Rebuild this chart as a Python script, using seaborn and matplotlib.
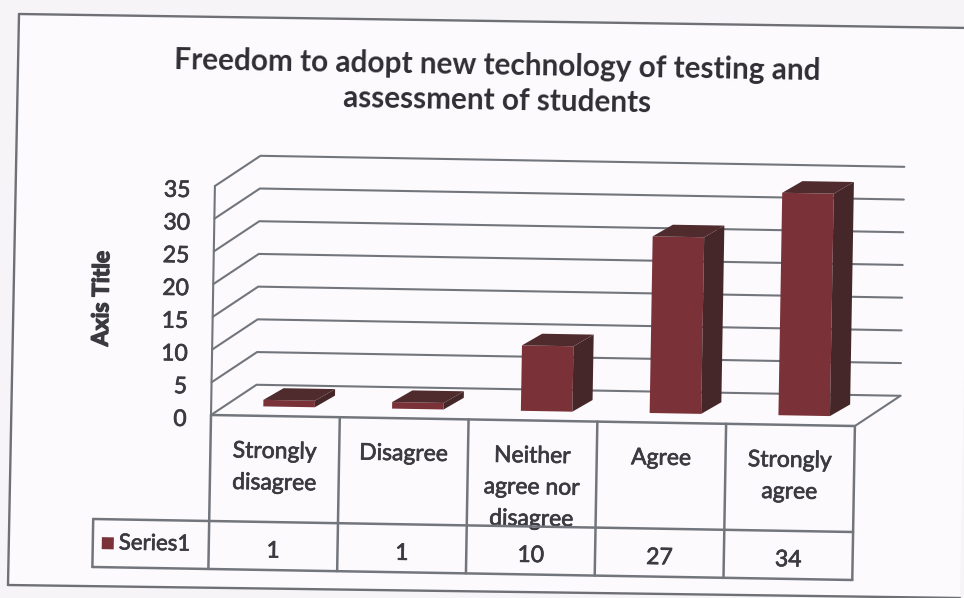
# 3D style column chart with data table, scanned look
import pandas as pd
import matplotlib
matplotlib.use("Agg")
import matplotlib.pyplot as plt
import matplotlib.patheffects as pe
from matplotlib.lines import Line2D
from matplotlib.patches import Polygon, Rectangle
from matplotlib.transforms import Affine2D
import seaborn as sns

# chart values
categories = ["Strongly\ndisagree", "Disagree", "Neither\nagree nor\ndisagree", "Agree", "Strongly\nagree"]
series1 = [1, 1, 10, 27, 34]
y_ticks = [0, 5, 10, 15, 20, 25, 30, 35]
title = "Freedom to adopt new technology of testing and\nassessment of students"
series_name = "Series1"
y_title = "Axis Title"

df = pd.DataFrame({"category": categories, "count": series1})

W, H = 964, 598
LINE = "#72767c"
TEXT = "#3b3a40"
FRONT = "#7a3138"
SIDE = "#462729"
TOP = "#4f2b2d"
TILT = -0.98  # the scan is a bit rotated
THICK = [pe.withStroke(linewidth=0.5, foreground=TEXT)]

sns.set_theme(style="white")
plt.rcParams["font.family"] = ["Lato", "DejaVu Sans"]

fig = plt.figure(figsize=(W / 100, H / 100), dpi=100, facecolor="#f6f4f7")

# plot front plane sits at x 211-855, y 415 up to 186
ux = 644 / 5
uy = 229 / 35
ax = fig.add_axes([211 / W, 1 - 415 / H, 644 / W, 229 / H])
ax.patch.set_alpha(0)

# paper inside the chart frame
frame = [(19, 14), (970, 28), (960, 598), (8, 585)]
fig.add_artist(Polygon([(x / W, 1 - y / H) for x, y in frame], closed=True, transform=fig.transFigure,
                       facecolor="#fcfafd", edgecolor="none", zorder=-5))
for (x0, y0), (x1, y1) in [(frame[3], frame[0]), (frame[0], frame[1]), (frame[3], frame[2])]:
    fig.add_artist(Line2D([x0 / W, x1 / W], [1 - y0 / H, 1 - y1 / H], transform=fig.transFigure,
                          color="#6e7075", lw=1.7, zorder=-4))

sns.barplot(data=df, x="category", y="count", color=FRONT, saturation=1, width=0.4, ax=ax, zorder=5, linewidth=0)
ax.set_xlim(-0.5, 4.5)
ax.set_ylim(0, 35)
ax.axis("off")

tilt = Affine2D().rotate_deg_around(211, H - 415, TILT)
scene = ax.transData + tilt


def seg(xs, ys, lw=1.5, z=2):
    ax.add_line(Line2D(xs, ys, transform=scene, color=LINE, lw=lw, clip_on=False, zorder=z))


def label(x, y, s, **kw):
    ax.text(x, y, s, transform=scene, rotation=TILT, rotation_mode="anchor", color=TEXT,
            clip_on=False, path_effects=THICK, **kw)


# walls and floor
wx, wy = 45 / ux, 31 / uy
for v in y_ticks:
    seg([-0.5, -0.5 + wx, 4.5 + wx], [v, v + wy, v + wy])
seg([-0.5, -0.5], [0, 35])
seg([4.5, 4.5 + wx], [0, wy])

# bars, pushed back onto the floor with side and top faces
bx, by = 13.5 / ux, 9.5 / uy
dx, dy = 20 / ux, 12 / uy
for bar in ax.patches[:len(series1)]:
    bar.set_transform(Affine2D().translate(bx, by) + scene)
    bar.set_clip_on(False)
    x0 = bar.get_x() + bx
    x1 = x0 + bar.get_width()
    y0 = by
    y1 = by + bar.get_height()
    ax.add_patch(Polygon([(x1, y0), (x1 + dx, y0 + dy), (x1 + dx, y1 + dy), (x1, y1)], closed=True,
                         facecolor=SIDE, edgecolor="none", transform=scene, clip_on=False, zorder=5))
    ax.add_patch(Polygon([(x0, y1), (x1, y1), (x1 + dx, y1 + dy), (x0 + dx, y1 + dy)], closed=True,
                         facecolor=TOP, edgecolor="none", transform=scene, clip_on=False, zorder=5))

# data table under the plot
row_top = -106 / uy
row_bot = -154 / uy
left = -0.5 - 116 / ux
seg([-0.5, 4.5], [0, 0], lw=1.8, z=6)
seg([left, 4.5], [row_top, row_top], lw=1.8, z=6)
seg([left, 4.5], [row_bot, row_bot], lw=1.8, z=6)
seg([left, left], [row_top, row_bot], lw=1.8, z=6)
for i in range(len(categories) + 1):
    seg([i - 0.5, i - 0.5], [0, row_bot], lw=1.8, z=6)

for i, c in enumerate(categories):
    label(i, -25 / uy, c, ha="center", va="top", fontsize=16.5, linespacing=1.62)
    label(i, (row_top + row_bot) / 2 - 5 / uy, str(series1[i]), ha="center", va="center", fontsize=16.5)

ax.add_patch(Rectangle((left + 9 / ux, (row_top + row_bot) / 2 - 6 / uy), 12 / ux, 12 / uy, facecolor=FRONT,
                       edgecolor="none", transform=scene, clip_on=False, zorder=6))
label(left + 26 / ux, (row_top + row_bot) / 2, series_name, ha="left", va="center", fontsize=16)

# y axis text
for v in y_ticks:
    label(-0.69, v - 5 / uy, str(v), ha="right", va="center", fontsize=16.5)
ax.text(-0.5 - 111 / ux, 17.5, y_title, transform=scene, rotation=90 + TILT, rotation_mode="anchor", ha="center",
        va="center", color=TEXT, fontsize=16.5, fontweight="bold", clip_on=False,
        path_effects=[pe.withStroke(linewidth=1.0, foreground=TEXT)])

fig.text(497 / W, 1 - 83 / H, title, ha="center", va="center", ma="center", rotation=TILT, rotation_mode="anchor",
         color="#2f2e34", fontsize=21.4, fontweight="bold", linespacing=1.32)

fig.savefig("out.png", dpi=100, facecolor=fig.get_facecolor())
